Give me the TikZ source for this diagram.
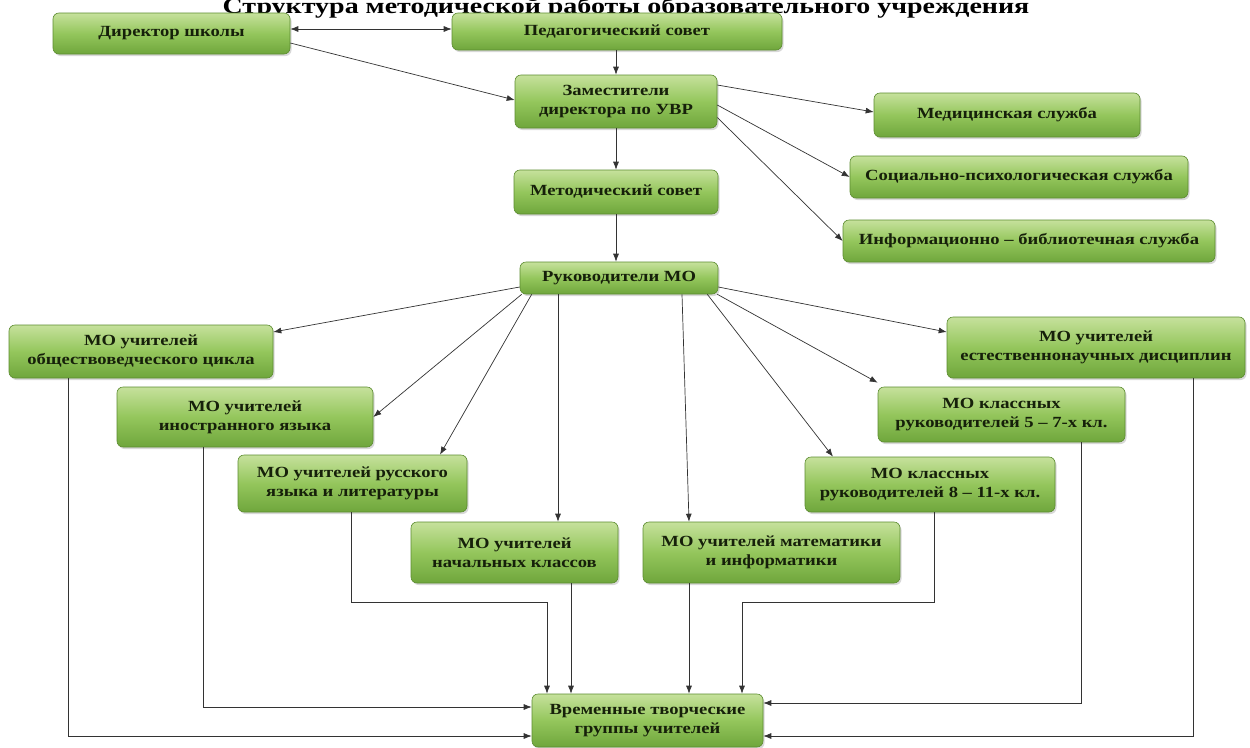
\documentclass[tikz,border=0pt]{standalone}
\usepackage{fontspec}
\setmainfont{Liberation Serif}[FakeStretch=1.2]
\usetikzlibrary{arrows.meta,shadows}
\definecolor{boxtop}{HTML}{C6E19C}
\definecolor{boxmid}{HTML}{94C65C}
\definecolor{boxbot}{HTML}{6FA63C}
\definecolor{boxline}{HTML}{5C8C30}
\definecolor{boxtext}{HTML}{16200A}
\definecolor{linkgray}{HTML}{333333}
\tikzset{
  mobox/.style={draw=boxline, line width=0.6pt, rounded corners=6pt,
    top color=boxtop, bottom color=boxbot, middle color=boxmid,
    drop shadow={shadow xshift=1.5pt, shadow yshift=-2pt, opacity=0.3},
    text=boxtext, font=\bfseries\fontsize{15.5}{19}\selectfont,
    align=center, inner sep=2pt},
  link/.style={draw=linkgray, line width=0.7pt, -{Latex[length=8pt,width=6pt]}},
  twolink/.style={link, {Latex[length=8pt,width=6pt]}-{Latex[length=8pt,width=6pt]}},
}

\begin{document}
\begin{tikzpicture}[x=1pt,y=-1pt]
    \path[use as bounding box, fill=white] (0,0) rectangle (1250,747);
    \node[anchor=base, xscale=1.06, font=\bfseries\fontsize{22}{26}\selectfont] (title) at (626,13.5)
      {Структура методической работы образовательного учреждения};

    \node[mobox, minimum width=237pt, minimum height=41pt] (dir) at (171.5,33.5) {Директор школы};
    \node[mobox, minimum width=330pt, minimum height=37pt] (ped) at (617,31.5) {Педагогический совет};
    \node[mobox, minimum width=202pt, minimum height=53pt] (zam) at (616,101.5) {Заместители\\директора по УВР};
    \node[mobox, minimum width=266pt, minimum height=44pt] (med) at (1007,115) {Медицинская служба};
    \node[mobox, minimum width=338pt, minimum height=42pt] (soc) at (1019,177) {Социально-психологическая служба};
    \node[mobox, minimum width=372pt, minimum height=42pt] (inf) at (1029,241) {Информационно – библиотечная служба};
    \node[mobox, minimum width=204pt, minimum height=44pt] (met) at (616,192) {Методический совет};
    \node[mobox, minimum width=198pt, minimum height=32pt] (ruk) at (619,278) {Руководители МО};

    \node[mobox, minimum width=264pt, minimum height=53pt] (obsh) at (141,351.5) {МО учителей\\обществоведческого цикла};
    \node[mobox, minimum width=256pt, minimum height=60pt] (inos) at (245,417) {МО учителей\\иностранного языка};
    \node[mobox, minimum width=229pt, minimum height=57pt] (rus) at (352.5,483.5) {МО учителей русского\\языка и литературы};
    \node[mobox, minimum width=207pt, minimum height=61pt] (nach) at (514.5,552.5) {МО учителей\\начальных классов};
    \node[mobox, minimum width=257pt, minimum height=61pt] (mat) at (771.5,552.5) {МО учителей математики\\и информатики};
    \node[mobox, minimum width=250pt, minimum height=55pt] (k811) at (930,484.5) {МО классных\\руководителей 8 – 11-х кл.};
    \node[mobox, minimum width=247pt, minimum height=55pt] (k57) at (1001.5,414.5) {МО классных\\руководителей 5 – 7-х кл.};
    \node[mobox, minimum width=298pt, minimum height=61pt] (est) at (1096,347.5) {МО учителей\\естественнонаучных дисциплин};

    \node[mobox, minimum width=231pt, minimum height=53pt] (vrem) at (647.5,720.5) {Временные творческие\\группы учителей};

    \coordinate (dp) at ([yshift=4.5pt]dir.east);
    \draw[twolink] (dp) -- (dp -| ped.west);
    \draw[link] ([yshift=-9.5pt]dir.east) -- ([yshift=1.5pt]zam.west);
    \draw[link] (ped.south -| zam.north) -- (zam.north);
    \draw[link] ([yshift=16.5pt]zam.east) -- ([yshift=3pt]med.west);
    \draw[link] ([yshift=-3.5pt]zam.east) -- (soc.west);
    \draw[link] ([yshift=-16pt]zam.east) -- (inf.west);
    \draw[link] (zam.south) -- (met.north);
    \draw[link] (met.south) -- (met.south |- ruk.north);

    \draw[link] ([yshift=-9pt]ruk.west) -- ([yshift=19.5pt]obsh.east);
    \draw[link] ([xshift=2pt]ruk.south west) -- (inos.east);
    \draw[link] ([xshift=12pt]ruk.south west) -- ([xshift=87.5pt]rus.north);
    \draw[link] ([xshift=-61pt]ruk.south) -- ([xshift=-61pt]ruk.south |- nach.north);
    \draw[link] ([xshift=63pt]ruk.south) -- ([xshift=-82.5pt]mat.north);
    \draw[link] ([xshift=-11pt]ruk.south east) -- ([xshift=-97pt]k811.north);
    \draw[link] ([xshift=-1pt]ruk.south east) -- ([yshift=4pt]k57.north west);
    \draw[link] ([yshift=-9pt]ruk.east) -- ([yshift=15.5pt]est.west);

    \draw[link] ([xshift=-73pt]obsh.south) |- ([yshift=-15.5pt]vrem.west);
    \draw[link] ([xshift=-42pt]inos.south) |- ([yshift=13.5pt]vrem.west);
    \draw[link] ([xshift=-1.5pt]rus.south) -- ++(0,90) -| ([xshift=-100.5pt]vrem.north);
    \draw[link] ([xshift=56.5pt]nach.south) -- ([xshift=56.5pt]nach.south |- vrem.north);
    \draw[link] ([xshift=-82.5pt]mat.south) -- ([xshift=-82.5pt]mat.south |- vrem.north);
    \draw[link] ([xshift=4pt]k811.south) -- ++(0,90) -| ([xshift=94.5pt]vrem.north);
    \draw[link] ([xshift=79.5pt]k57.south) |- ([yshift=17.5pt]vrem.east);
    \draw[link] ([xshift=97.5pt]est.south) |- ([yshift=-15.5pt]vrem.east);
\end{tikzpicture}
\end{document}
